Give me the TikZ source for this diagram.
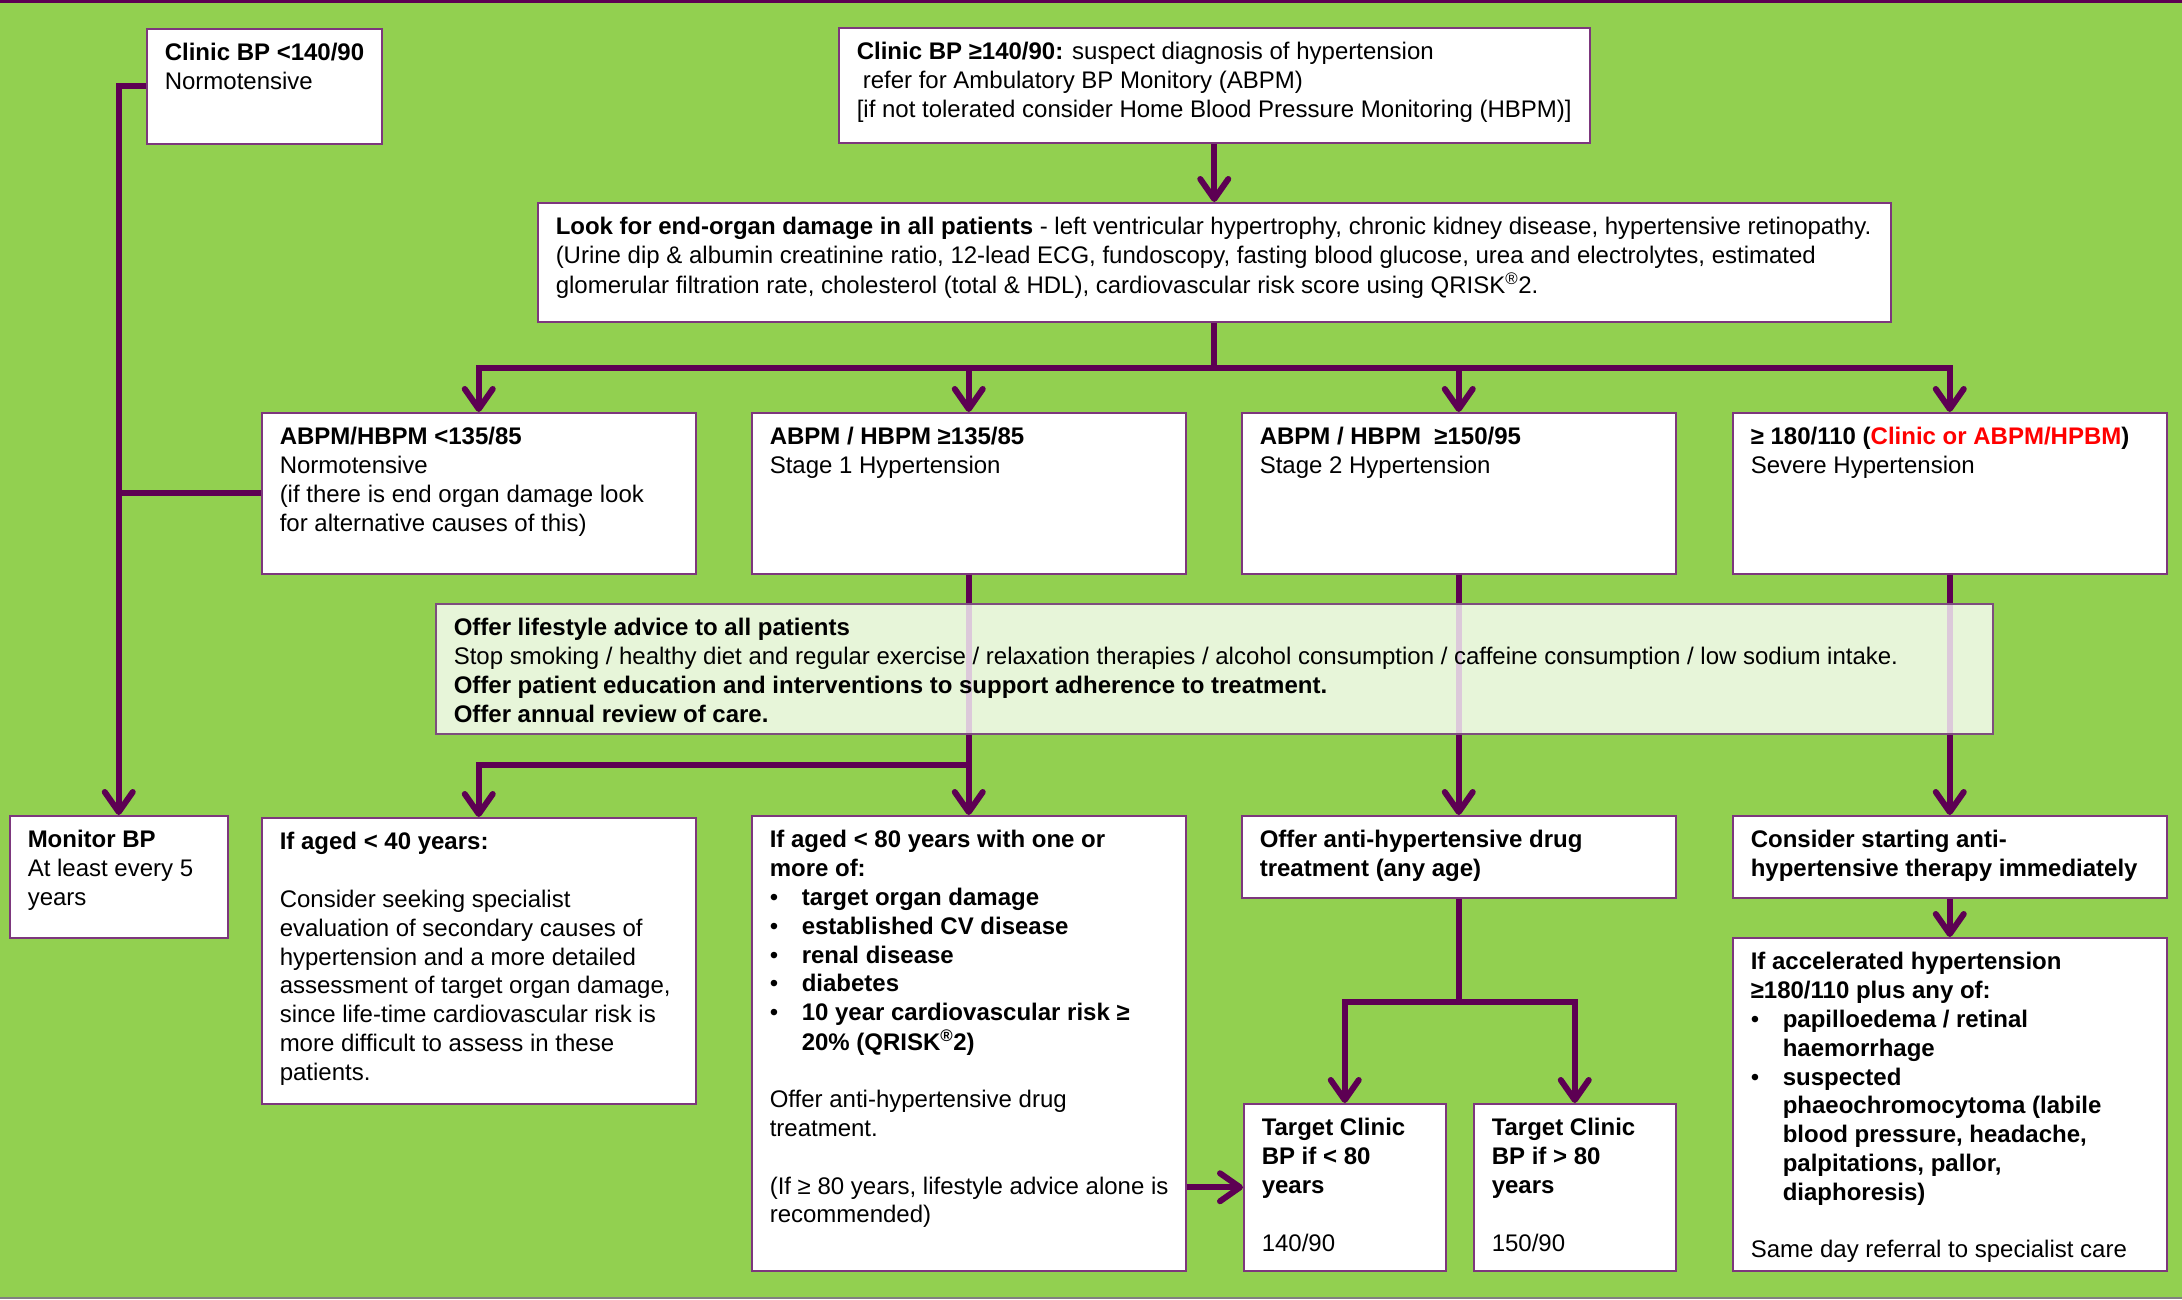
\documentclass[tikz,border=0pt]{standalone}
\usepackage{fontspec}
\setmainfont{Liberation Sans}
\usetikzlibrary{arrows.meta}

\definecolor{bggreen}{RGB}{146,208,80}
\definecolor{plumline}{RGB}{93,0,83}
\definecolor{boxedge}{RGB}{125,55,125}
\definecolor{alertred}{RGB}{255,0,0}

% text cell: inner width, inner height, rows
\newcommand{\cell}[3]{\begin{minipage}[t][#2pt][t]{#1pt}\begin{tabular}[t]{@{}l@{}}#3\end{tabular}\end{minipage}}
\newcommand{\bul}{\makebox[32pt][l]{•}}
\newcommand{\ind}{\hspace*{32pt}}

\tikzset{
    box/.style={draw=boxedge, line width=1.5pt, fill=white, anchor=north west,
        inner xsep=18pt, inner ysep=12pt, font=\fontsize{24}{28.8}\selectfont},
    link/.style={draw=plumline, line width=6pt},
    arr/.style={link, -{Straight Barb[length=20pt, width=28pt, round]}},
}

\begin{document}
\begin{tikzpicture}[x=1pt, y=-1pt]
        \useasboundingbox (0,0) rectangle (2182,1299);
        \fill[bggreen] (0,0) rectangle (2182,1299);
        \fill[plumline] (0,0) rectangle (2182,2.5);
        \fill[gray] (0,1296.5) rectangle (2182,1299);

        % top row
        \node[box] (clinicLow) at (146,28) {\cell{199}{91}{\textbf{Clinic BP <140/90}\\ Normotensive}};
        \node[box] (clinicHigh) at (838,27) {\cell{715}{91}{\textbf{Clinic BP ≥140/90:} suspect diagnosis of hypertension\\ \hspace*{6pt}refer for Ambulatory BP Monitory (ABPM)\\ \relax [if not tolerated consider Home Blood Pressure Monitoring (HBPM)]}};
        \node[box] (organ) at (537,202) {\cell{1317}{95}{\textbf{Look for end-organ damage in all patients} - left ventricular hypertrophy, chronic kidney disease, hypertensive retinopathy.\\ (Urine dip \& albumin creatinine ratio, 12-lead ECG, fundoscopy, fasting blood glucose, urea and electrolytes, estimated\\ glomerular filtration rate, cholesterol (total \& HDL), cardiovascular risk score using QRISK\textsuperscript{®}2.}};

        % second row
        \node[box] (normo) at (261,412) {\cell{398}{137}{\textbf{ABPM/HBPM <135/85}\\ Normotensive\\ (if there is end organ damage look\\ for alternative causes of this)}};
        \node[box] (stageOne) at (751,412) {\cell{398}{137}{\textbf{ABPM / HBPM ≥135/85}\\ Stage 1 Hypertension}};
        \node[box] (stageTwo) at (1241,412) {\cell{398}{137}{\textbf{ABPM / HBPM\ \ ≥150/95}\\ Stage 2 Hypertension}};
        \node[box] (severe) at (1732,412) {\cell{398}{137}{\textbf{≥ 180/110 (\textcolor{alertred}{Clinic or ABPM/HPBM})}\\ Severe Hypertension}};

        % third row
        \node[box] (monitor) at (9,815) {\cell{182}{98}{\textbf{Monitor BP}\\ At least every 5\\ years}};
        \node[box] (young) at (261,817) {\cell{398}{262}{\textbf{If aged < 40 years:}\\ \\ Consider seeking specialist\\ evaluation of secondary causes of\\ hypertension and a more detailed\\ assessment of target organ damage,\\ since life-time cardiovascular risk is\\ more difficult to assess in these\\ patients.}};
        \node[box] (under80) at (751,815) {\cell{398}{431}{\textbf{If aged < 80 years with one or}\\ \textbf{more of:}\\ \bul\textbf{target organ damage}\\ \bul\textbf{established CV disease}\\ \bul\textbf{renal disease}\\ \bul\textbf{diabetes}\\ \bul\textbf{10 year cardiovascular risk ≥}\\ \ind\textbf{20\% (QRISK\textsuperscript{®}2)}\\ \\ Offer anti-hypertensive drug\\ treatment.\\ \\ (If ≥ 80 years, lifestyle advice alone is\\ recommended)}};
        \node[box] (drugs) at (1241,815) {\cell{398}{58}{\textbf{Offer anti-hypertensive drug}\\ \textbf{treatment (any age)}}};
        \node[box] (urgent) at (1732,815) {\cell{398}{58}{\textbf{Consider starting anti-}\\ \textbf{hypertensive therapy immediately}}};

        % targets and accelerated
        \node[box] (targetLow) at (1243,1103) {\cell{166}{143}{\textbf{Target Clinic}\\ \textbf{BP if < 80}\\ \textbf{years}\\ \\ 140/90}};
        \node[box] (targetHigh) at (1473,1103) {\cell{166}{143}{\textbf{Target Clinic}\\ \textbf{BP if > 80}\\ \textbf{years}\\ \\ 150/90}};
        \node[box] (accel) at (1732,937) {\cell{398}{309}{\textbf{If accelerated hypertension}\\ \textbf{≥180/110 plus any of:}\\ \bul\textbf{papilloedema / retinal}\\ \ind\textbf{haemorrhage}\\ \bul\textbf{suspected}\\ \ind\textbf{phaeochromocytoma (labile}\\ \ind\textbf{blood pressure, headache,}\\ \ind\textbf{palpitations, pallor,}\\ \ind\textbf{diaphoresis)}\\ \\ Same day referral to specialist care}};

        % left trunk
        \draw[arr] (clinicLow.west) -| (monitor.north);
        \draw[link] (normo.west) -- (normo.west -| monitor.north);

        % down the middle
        \draw[arr] (clinicHigh.south) -- (organ.north);
        \draw[link] (organ.south) -- ++(0,45) coordinate (bus);
        \draw[arr] (bus) -| (normo.north);
        \draw[arr] (bus) -| (stageOne.north);
        \draw[arr] (bus) -| (stageTwo.north);
        \draw[arr] (bus) -| (severe.north);

        % through the lifestyle box
        \draw[arr] (stageOne.south) -- (under80.north);
        \path (stageOne.south) ++(0,190) coordinate (split);
        \draw[arr] (split) -| (young.north);
        \draw[arr] (stageTwo.south) -- (drugs.north);
        \draw[arr] (severe.south) -- (urgent.north);
        \draw[arr] (urgent.south) -- (accel.north);
        \draw[link] (drugs.south) -- ++(0,103) coordinate (fork);
        \draw[arr] (fork) -| (targetLow.north);
        \draw[arr] (fork) -| (targetHigh.north);
        \draw[arr] (targetLow.west -| under80.east) -- (targetLow.west);

        \node[box, draw=boxedge!70!gray, fill opacity=0.79, text opacity=1] (lifestyle) at (435,603) {\cell{1521}{106}{\textbf{Offer lifestyle advice to all patients}\\ Stop smoking / healthy diet and regular exercise / relaxation therapies / alcohol consumption / caffeine consumption / low sodium intake.\\ \textbf{Offer patient education and interventions to support adherence to treatment.}\\ \textbf{Offer annual review of care.}}};
    \end{tikzpicture}
\end{document}
